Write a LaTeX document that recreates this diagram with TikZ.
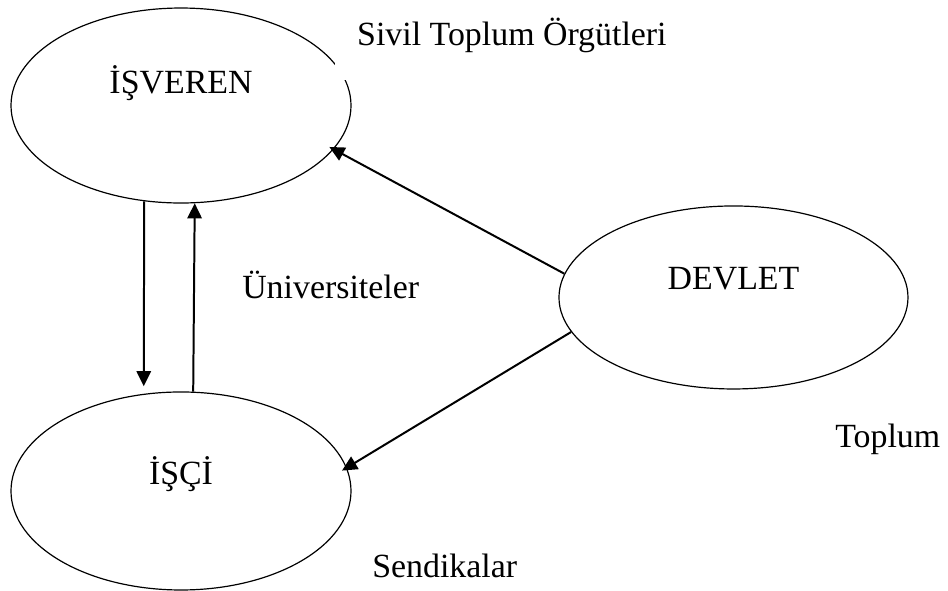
\documentclass[tikz,border=0pt]{standalone}
\usepackage{fontspec}
\setmainfont{Liberation Serif}
\usetikzlibrary{shapes.geometric,arrows.meta}

\begin{document}
\begin{tikzpicture}[
    oval/.style={draw=black,ellipse,line width=0.9pt,inner sep=0pt},
    arr/.style={-{Triangle[length=0.4cm,width=0.38cm]},line width=1.5pt},
    lbl/.style={inner sep=0pt},
    every node/.append style={font=\fontsize{25.5}{30}\selectfont}]
    \useasboundingbox (0,0) rectangle (25.083,15.637);

    \node[oval,minimum width=8.996cm,minimum height=5.159cm] (isveren) at (4.789,12.845){};
    \node[oval,minimum width=8.996cm,minimum height=5.239cm] (isci) at (4.789,2.646){};
    \node[oval,minimum width=9.234cm,minimum height=4.842cm] (devlet) at (19.407,7.766){};

    \node[anchor=base] (isverentxt) at ([yshift=0.33cm]isveren.center){İŞVEREN};
    \node[anchor=base] (iscitxt) at ([yshift=0.16cm]isci.center){İŞÇİ};
    \node[anchor=base] (devlettxt) at ([yshift=0.2cm]devlet.center){DEVLET};

    \node[anchor=base west,fill=white,inner xsep=0.58cm,inner ysep=0.73cm] (stk) at (8.864,14.446){Sivil Toplum Örgütleri};
    \node[lbl,anchor=base west] (uni) at (6.403,7.752){Üniversiteler};
    \node[lbl,anchor=base west] (toplum) at (22.093,3.784){Toplum};
    \node[lbl,anchor=base west] (sendika) at (9.843,0.344){Sendikalar};

    \draw[arr,shorten >=0.2cm] (isveren.-111.8) -- (isci.111.5);
    \draw[arr] (isci.83.07) -- (isveren.-82.97);
    \draw[arr,shorten >=-0.13cm] (devlet.172.6) -- (isveren.-16.3);
    \draw[arr,shorten >=-0.15cm] (devlet.192.1) -- (isci.8.6);
\end{tikzpicture}
\end{document}
